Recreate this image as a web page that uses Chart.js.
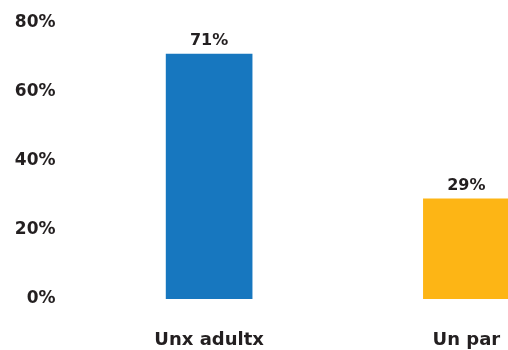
<!DOCTYPE html>
<html>
<head>
<meta charset="utf-8">
<script src="https://cdn.jsdelivr.net/npm/chart.js@4/dist/chart.umd.min.js"></script>
<style>
  html, body { margin: 0; padding: 0; background: #ffffff; overflow: hidden; }
  #wrap { position: relative; width: 595px; height: 350px; }
</style>
</head>
<body>
<div id="wrap"><canvas id="chart"></canvas></div>
<script>
// Share of respondents by who they live with
const categories = ['Unx adultx', 'Un par'];
const shares = [71, 29];
const barColors = ['#1777BF', '#FDB515'];
const yTicks = [0, 20, 40, 60, 80];

const FONT = '"DejaVu Sans", Lato, sans-serif';
const INK = '#231F20';

// Percentage labels above each bar
const valueLabels = {
  id: 'valueLabels',
  afterDatasetsDraw(chart) {
    const ctx = chart.ctx;
    const meta = chart.getDatasetMeta(0);
    ctx.save();
    ctx.font = 'bold 16px ' + FONT;
    ctx.fillStyle = INK;
    ctx.textAlign = 'center';
    ctx.textBaseline = 'bottom';
    meta.data.forEach((bar, i) => {
      ctx.fillText(chart.data.datasets[0].data[i] + '%', bar.x, bar.y - 5);
    });
    ctx.restore();
  }
};

new Chart(document.getElementById('chart'), {
  type: 'bar',
  data: {
    labels: categories,
    datasets: [{
      data: shares,
      backgroundColor: barColors,
      borderWidth: 0,
      barThickness: 86
    }]
  },
  options: {
    responsive: true,
    maintainAspectRatio: false,
    animation: false,
    layout: { padding: { top: 23, right: 0, bottom: 0, left: 0 } },
    plugins: {
      legend: { display: false },
      tooltip: { enabled: false }
    },
    scales: {
      x: {
        grid: { display: false, drawTicks: false },
        border: { display: false },
        afterFit(scale) { scale.height = 51; },
        ticks: {
          color: INK,
          padding: 31,
          maxRotation: 0,
          font: { family: FONT, size: 18, weight: 'bold' }
        }
      },
      y: {
        min: 0,
        max: 80,
        grid: { display: false, drawTicks: false },
        border: { display: false },
        afterBuildTicks(scale) {
          scale.ticks = yTicks.map(v => ({ value: v }));
        },
        afterFit(scale) {
          scale.width = 80.5;
          scale.paddingTop = 0;
          scale.paddingBottom = 0;
        },
        ticks: {
          color: INK,
          padding: 25,
          font: { family: FONT, size: 17, weight: 'bold' },
          callback: v => v + '%'
        }
      }
    }
  },
  plugins: [valueLabels]
});
</script>
</body>
</html>
